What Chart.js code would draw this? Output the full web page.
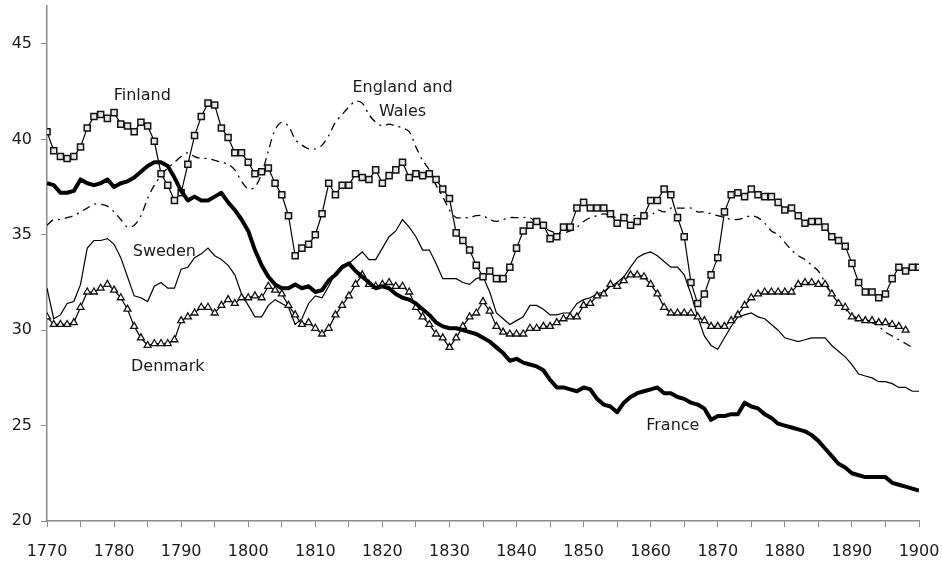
<!DOCTYPE html>
<html>
<head>
<meta charset="utf-8">
<script src="https://cdn.jsdelivr.net/npm/chart.js@4.4.1/dist/chart.umd.min.js"></script>
<style>
  html, body { margin: 0; padding: 0; background: #fff; }
  #wrap { width: 942px; height: 562px; position: relative; }
</style>
</head>
<body>
<div id="wrap"><canvas id="mortality-chart"></canvas></div>
<script>
// years 1770..1900, one value per year
const years = Array.from({ length: 131 }, (_, i) => 1770 + i)

const finland = [
  40.4, 39.4, 39.1, 39.0, 39.1, 39.6, 40.6, 41.2, 41.3, 41.1,
  41.4, 40.8, 40.7, 40.4, 40.9, 40.7, 39.9, 38.2, 37.6, 36.8,
  37.2, 38.7, 40.2, 41.2, 41.9, 41.8, 40.6, 40.1, 39.3, 39.3,
  38.8, 38.2, 38.3, 38.5, 37.7, 37.1, 36.0, 33.9, 34.3, 34.5,
  35.0, 36.1, 37.7, 37.1, 37.6, 37.6, 38.2, 38.0, 37.9, 38.4,
  37.7, 38.1, 38.4, 38.8, 38.0, 38.2, 38.1, 38.2, 37.9, 37.4,
  36.9, 35.1, 34.7, 34.2, 33.4, 32.8, 33.1, 32.7, 32.7, 33.3,
  34.3, 35.2, 35.5, 35.7, 35.5, 34.8, 34.9, 35.4, 35.4, 36.4,
  36.7, 36.4, 36.4, 36.4, 36.1, 35.6, 35.9, 35.5, 35.7, 36.0,
  36.8, 36.8, 37.4, 37.1, 35.9, 34.9, 32.5, 31.4, 31.9, 32.9,
  33.8, 36.2, 37.1, 37.2, 37.0, 37.4, 37.1, 37.0, 37.0, 36.7,
  36.3, 36.4, 36.0, 35.6, 35.7, 35.7, 35.4, 34.9, 34.7, 34.4,
  33.5, 32.5, 32.0, 32.0, 31.7, 31.9, 32.7, 33.3, 33.1, 33.3,
  33.3
]

const englandWales = [
  35.5, 35.8, 35.8, 35.9, 36.0, 36.2, 36.4, 36.6, 36.6, 36.5,
  36.2, 35.8, 35.4, 35.5, 36.0, 36.9, 37.6, 38.1, 38.5, 38.8,
  39.1, 39.3, 39.1, 39.0, 39.0, 38.9, 38.8, 38.7, 38.4, 37.8,
  37.4, 37.5, 38.2, 39.4, 40.5, 40.9, 40.7, 40.0, 39.7, 39.5,
  39.5, 39.7, 40.2, 40.9, 41.3, 41.7, 42.0, 41.9, 41.3, 40.9,
  40.7, 40.8, 40.7, 40.6, 40.4, 39.6, 38.9, 38.4, 37.6, 37.0,
  36.3, 35.9, 35.9, 35.9, 36.0, 36.0, 35.8, 35.7, 35.8, 35.9,
  35.9, 35.9, 35.9, 35.6, 35.4, 35.2, 35.1, 35.1, 35.2, 35.4,
  35.7, 35.9, 36.0, 36.1, 36.0, 35.9, 36.0, 36.0, 36.0, 36.0,
  36.0, 36.3, 36.2, 36.4, 36.4, 36.4, 36.4, 36.2, 36.2, 36.1,
  36.0, 35.9, 35.8, 35.8, 35.9, 36.0, 35.9, 35.6, 35.2, 35.0,
  34.6, 34.2, 33.9, 33.7, 33.4, 33.1, 32.5, 31.9, 31.5, 31.1,
  30.8, 30.6, 30.5, 30.4, 30.2, 29.9, 29.7, 29.5, 29.3, 29.1,
  null
]

const sweden = [
  32.2, 30.6, 30.8, 31.4, 31.5, 32.4, 34.3, 34.7, 34.7, 34.8,
  34.5, 33.8, 32.8, 31.8, 31.7, 31.5, 32.3, 32.5, 32.2, 32.2,
  33.2, 33.3, 33.8, 34.0, 34.3, 33.9, 33.7, 33.4, 32.9, 31.9,
  31.3, 30.7, 30.7, 31.3, 31.6, 31.4, 31.2, 30.3, 30.6, 31.4,
  31.8, 31.7, 32.3, 33.0, 33.4, 33.5, 33.8, 34.1, 33.7, 33.7,
  34.3, 34.9, 35.2, 35.8, 35.4, 34.9, 34.2, 34.2, 33.5, 32.7,
  32.7, 32.7, 32.5, 32.4, 32.7, 32.8, 32.0, 30.9, 30.6, 30.3,
  30.5, 30.7, 31.3, 31.3, 31.1, 30.8, 30.8, 30.9, 30.9, 31.4,
  31.6, 31.7, 31.9, 32.0, 32.3, 32.5, 32.8, 33.3, 33.8, 34.0,
  34.1, 33.9, 33.6, 33.3, 33.3, 32.9, 31.9, 30.7, 29.7, 29.2,
  29.0, 29.6, 30.2, 30.7, 30.8, 30.9, 30.7, 30.6, 30.3, 30.0,
  29.6, 29.5, 29.4, 29.5, 29.6, 29.6, 29.6, 29.2, 28.9, 28.6,
  28.2, 27.7, 27.6, 27.5, 27.3, 27.3, 27.2, 27.0, 27.0, 26.8,
  26.8
]

const denmark = [
  30.7, 30.3, 30.3, 30.3, 30.4, 31.2, 32.0, 32.0, 32.2, 32.4,
  32.1, 31.7, 31.1, 30.2, 29.6, 29.2, 29.3, 29.3, 29.3, 29.5,
  30.5, 30.7, 30.9, 31.2, 31.2, 30.9, 31.3, 31.6, 31.4, 31.7,
  31.7, 31.8, 31.7, 32.3, 32.1, 31.9, 31.3, 30.8, 30.3, 30.4,
  30.1, 29.8, 30.1, 30.8, 31.3, 31.8, 32.4, 32.9, 32.4, 32.3,
  32.4, 32.5, 32.3, 32.3, 32.0, 31.2, 30.7, 30.3, 29.8, 29.6,
  29.1, 29.6, 30.2, 30.7, 30.9, 31.5, 31.0, 30.2, 29.9, 29.8,
  29.8, 29.8, 30.1, 30.1, 30.2, 30.2, 30.4, 30.6, 30.7, 30.7,
  31.3, 31.4, 31.8, 31.9, 32.4, 32.3, 32.6, 32.9, 32.9, 32.8,
  32.4, 31.9, 31.2, 30.9, 30.9, 30.9, 30.9, 30.7, 30.5, 30.2,
  30.2, 30.2, 30.5, 30.8, 31.3, 31.7, 31.9, 32.0, 32.0, 32.0,
  32.0, 32.0, 32.4, 32.5, 32.5, 32.4, 32.4, 31.9, 31.4, 31.2,
  30.7, 30.6, 30.5, 30.5, 30.4, 30.4, 30.3, 30.2, 30.0, null,
  null
]

const france = [
  37.7, 37.6, 37.2, 37.2, 37.3, 37.9, 37.7, 37.6, 37.7, 37.9,
  37.5, 37.7, 37.8, 38.0, 38.3, 38.6, 38.8, 38.8, 38.6, 38.0,
  37.3, 36.8, 37.0, 36.8, 36.8, 37.0, 37.2, 36.7, 36.3, 35.8,
  35.2, 34.2, 33.4, 32.8, 32.4, 32.2, 32.2, 32.4, 32.2, 32.3,
  32.0, 32.1, 32.6, 32.9, 33.3, 33.5, 33.1, 32.8, 32.5, 32.2,
  32.3, 32.2, 31.9, 31.7, 31.6, 31.4, 31.1, 30.8, 30.4, 30.2,
  30.1, 30.1, 30.0, 29.9, 29.8, 29.6, 29.4, 29.1, 28.8, 28.4,
  28.5, 28.3, 28.2, 28.1, 27.9, 27.4, 27.0, 27.0, 26.9, 26.8,
  27.0, 26.9, 26.4, 26.1, 26.0, 25.7, 26.2, 26.5, 26.7, 26.8,
  26.9, 27.0, 26.7, 26.7, 26.5, 26.4, 26.2, 26.1, 25.9, 25.3,
  25.5, 25.5, 25.6, 25.6, 26.2, 26.0, 25.9, 25.6, 25.4, 25.1,
  25.0, 24.9, 24.8, 24.7, 24.5, 24.2, 23.8, 23.4, 23.0, 22.8,
  22.5, 22.4, 22.3, 22.3, 22.3, 22.3, 22.0, 21.9, 21.8, 21.7,
  21.6
]

const seriesLabels = [
  { text: 'Finland', year: 1784.2, value: 42.3 },
  { text: 'England and', year: 1823, value: 42.7 },
  { text: 'Wales', year: 1823, value: 41.45 },
  { text: 'Sweden', year: 1787.5, value: 34.1 },
  { text: 'Denmark', year: 1788, value: 28.1 },
  { text: 'France', year: 1863.3, value: 25.0 }
]

const toPoints = values => years.map((yr, i) => ({ x: yr, y: values[i] }))

const ink = '#1a1a1a'
const axisGrey = '#8a8a8a'
const fontFamily = '"DejaVu Sans", Verdana, sans-serif'

const labelPlugin = {
  id: 'seriesLabels',
  afterDatasetsDraw(chart) {
    const { ctx, scales: { x, y } } = chart
    ctx.save()
    ctx.font = '16px ' + fontFamily
    ctx.fillStyle = ink
    ctx.textAlign = 'center'
    ctx.textBaseline = 'middle'
    seriesLabels.forEach(l => {
      ctx.fillText(l.text, x.getPixelForValue(l.year), y.getPixelForValue(l.value))
    })
    ctx.restore()
  }
}

const ctx = document.getElementById('mortality-chart')

new Chart(ctx, {
  type: 'line',
  data: {
    datasets: [
      {
        label: 'France',
        data: toPoints(france),
        borderColor: '#000',
        borderWidth: 4,
        pointRadius: 0,
        tension: 0,
        borderJoinStyle: 'round'
      },
      {
        label: 'Finland',
        data: toPoints(finland),
        borderColor: '#000',
        borderWidth: 1.2,
        pointStyle: 'rect',
        pointRadius: 4.3,
        pointBorderWidth: 1.5,
        pointBorderColor: '#111',
        pointBackgroundColor: '#e8e8e8',
        tension: 0
      },
      {
        label: 'Denmark',
        data: toPoints(denmark),
        borderColor: '#000',
        borderWidth: 1.2,
        pointStyle: 'triangle',
        pointRadius: 4,
        pointBorderWidth: 1.3,
        pointBorderColor: '#111',
        pointBackgroundColor: '#fff',
        tension: 0
      },
      {
        label: 'Sweden',
        data: toPoints(sweden),
        borderColor: '#000',
        borderWidth: 1.2,
        pointRadius: 0,
        tension: 0
      },
      {
        label: 'England and Wales',
        data: toPoints(englandWales),
        borderColor: '#000',
        borderWidth: 1.3,
        borderDash: [8, 5, 2, 5],
        pointRadius: 0,
        tension: 0.3
      }
    ]
  },
  options: {
    responsive: true,
    maintainAspectRatio: false,
    animation: false,
    events: [],
    layout: { padding: { top: 4, right: 23, left: 0, bottom: 0 } },
    plugins: {
      legend: { display: false },
      tooltip: { enabled: false }
    },
    scales: {
      x: {
        type: 'linear',
        min: 1770,
        max: 1900,
        afterFit: scale => {
          scale.height = 41
          scale.paddingLeft = 0
          scale.paddingRight = 0
        },
        grid: { drawOnChartArea: false, tickLength: 6, color: axisGrey, lineWidth: 1 },
        border: { color: axisGrey, width: 1.5 },
        ticks: {
          stepSize: 5,
          autoSkip: false,
          maxRotation: 0,
          padding: 15,
          color: ink,
          font: { family: fontFamily, size: 16 },
          callback: v => (v % 10 === 0 ? String(v) : '')
        }
      },
      y: {
        min: 20,
        max: 47,
        afterFit: scale => {
          scale.width = 47
          scale.paddingTop = 0
          scale.paddingBottom = 0
        },
        grid: { drawOnChartArea: false, tickLength: 6, color: axisGrey, lineWidth: 1 },
        border: { color: axisGrey, width: 1.5 },
        ticks: {
          stepSize: 5,
          includeBounds: false,
          padding: 9,
          color: ink,
          font: { family: fontFamily, size: 16 }
        }
      }
    }
  },
  plugins: [labelPlugin]
})
</script>
</body>
</html>
